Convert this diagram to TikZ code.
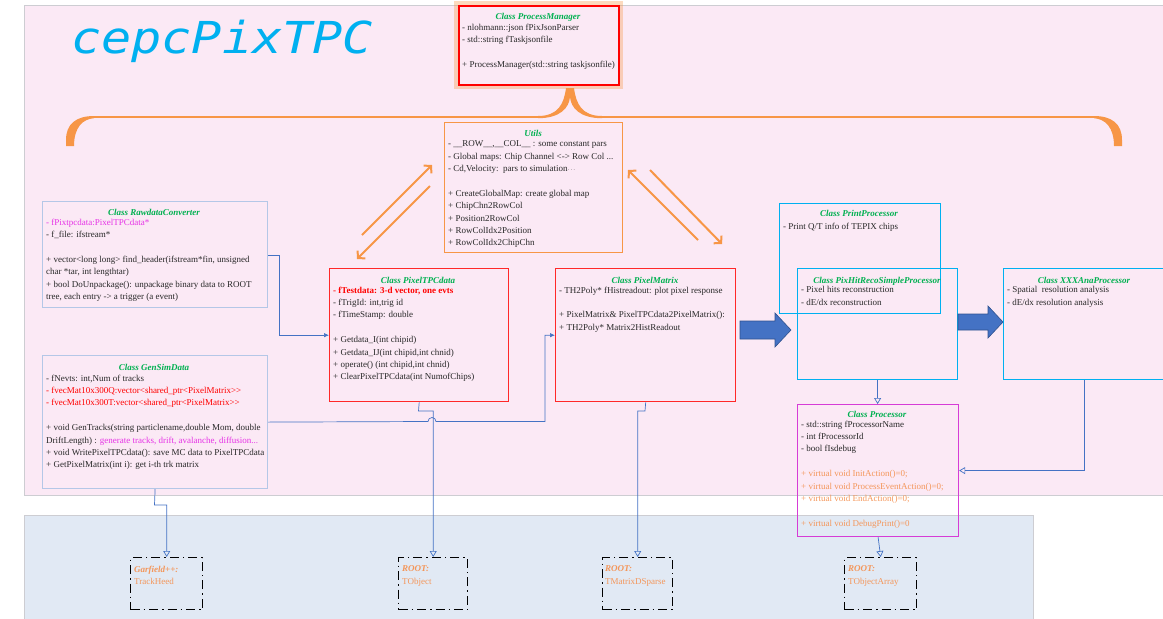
\documentclass[tikz,border=0pt]{standalone}
\usepackage{fontspec}
\usepackage{graphicx}
\setmainfont{Liberation Serif}
\newfontfamily\logofont{DejaVu Sans Mono}
\usetikzlibrary{arrows.meta,calc}

\definecolor{panelpink}{RGB}{251,233,245}
\definecolor{panelblue}{RGB}{225,233,244}
\definecolor{panelline}{RGB}{205,205,210}
\definecolor{clsgreen}{RGB}{0,176,80}
\definecolor{logocyan}{RGB}{0,176,240}
\definecolor{accent}{RGB}{247,150,70}
\definecolor{linkblue}{RGB}{68,114,196}
\definecolor{linkdark}{RGB}{47,82,143}
\definecolor{softblue}{RGB}{180,199,231}
\definecolor{boxred}{RGB}{255,40,40}
\definecolor{procmag}{RGB}{214,60,214}
\definecolor{hotpink}{RGB}{230,50,230}
\definecolor{methorange}{RGB}{244,150,90}
\definecolor{bodytext}{RGB}{40,40,40}

\begin{document}
\begin{tikzpicture}[x=1pt,y=-1pt,
  box/.style={draw, line width=1.2pt, inner sep=0pt, anchor=north west},
  libbox/.style={draw=black, line width=1.4pt, inner sep=0pt, anchor=north west,
    dash pattern=on 9pt off 4pt on 1.5pt off 4pt},
  cls/.style={font=\fontsize{9}{12.4}\selectfont\bfseries\itshape, text=clsgreen,
    inner sep=0pt, anchor=base},
  % multi-line text: the given point is the first baseline
  body/.style={font=\fontsize{9}{12.4}\selectfont, text=bodytext, inner sep=0pt,
    anchor=north west, yshift=8.5pt, align=left,
    execute at begin node={\rule{0pt}{8.5pt}}},
  libtext/.style={body, text=methorange},
  link/.style={draw=linkblue, line width=0.7pt},
  inherit/.style={link, -{Triangle[open,length=6pt,width=7pt]}},
  assoc/.style={link, -{Latex[length=5pt,width=4.5pt]}},
  usesarrow/.style={draw=accent, line width=2pt, -{Straight Barb[length=5pt,width=11pt]}},
  blockarrow/.style={fill=linkblue, draw=linkdark, line width=0.6pt}
]
\useasboundingbox (0,0) rectangle (1163,619);

% background panels
\fill[panelpink, draw=panelline, line width=0.8pt] (24,5) rectangle (1180,495);
\fill[panelblue, draw=panelline, line width=0.5pt] (24,515) rectangle (1033,630);

% logo
\node[anchor=base west, inner sep=0pt, text=logocyan] (logo) at (71,53)
  {\scalebox{1.14}[1]{\fontsize{44}{44}\logofont\itshape cepcPixTPC}};

% process manager with its glow
\draw[accent, opacity=0.35, line width=5pt] (456,3) rectangle (620,86);
\node[box, draw=red, line width=2pt, minimum width=160pt, minimum height=79pt] (pm) at (458,5) {};
\node[cls] (pmt) at (538,19) {Class ProcessManager};
\node[body] (pmb) at (462,32) {- nlohmann::json fPixJsonParser\\
- std::string fTaskjsonfile\\[12.4pt]
+ ProcessManager(std::string taskjsonfile)};

% curly brace under the process manager
\fill[accent] (66,146) -- (66,140) .. controls (66,124) and (76,116) .. (94,116)
  -- (94,118.2) .. controls (83,119) and (74,127) .. (74,146) -- cycle;
\fill[accent] (1122,146) -- (1122,140) .. controls (1122,124) and (1112,116) .. (1094,116)
  -- (1094,118.2) .. controls (1105,119) and (1114,127) .. (1114,146) -- cycle;
\draw[accent, line width=2pt] (93,117.1) -- (540,117.1);
\draw[accent, line width=2pt] (600,117.1) -- (1095,117.1);
\fill[accent] (538,116) .. controls (558,116) and (564,104) .. (566,88)
  -- (574,88) .. controls (576,104) and (582,116) .. (602,116)
  -- (602,118.2) .. controls (580,118.2) and (571,108) .. (570,97)
  .. controls (569,108) and (560,118.2) .. (538,118.2) -- cycle;

% utilities
\node[box, draw=accent, minimum width=178pt, minimum height=130pt] (utils) at (444,122) {};
\node[cls] (utilst) at (533,136) {Utils};
\node[body] (utilsb) at (448,149) {- \_\_ROW\_\_,\_\_COL\_\_ : some constant pars\\
- Global maps: Chip Channel <-> Row Col ...\\
- Cd,Velocity:\ \ pars to simulation{\bfseries\fontsize{6}{6}\selectfont$\cdot\!\cdot\!\cdot$}\\[12.4pt]
+ CreateGlobalMap: create global map\\
+ ChipChn2RowCol\\
+ Position2RowCol\\
+ RowColIdx2Position\\
+ RowColIdx2ChipChn};

% raw data converter
\node[box, draw=softblue, minimum width=225pt, minimum height=106pt] (raw) at (42,201) {};
\node[cls] (rawt) at (154,215) {Class RawdataConverter};
\node[body] (rawb) at (46,227) {\textcolor{hotpink}{- fPixtpcdata:PixelTPCdata*}\\
- f\_file: ifstream*\\[12.4pt]
+ vector<long long> find\_header(ifstream*fin, unsigned\\
char *tar, int lengthtar)\\
+ bool DoUnpackage(): unpackage binary data to ROOT\\
tree, each entry -> a trigger (a event)};

% simulated data generator
\node[box, draw=softblue, minimum width=225pt, minimum height=133pt] (gen) at (42,355) {};
\node[cls] (gent) at (154,370) {Class GenSimData};
\node[body] (genb) at (46,383) {- fNevts: int,Num of tracks\\
\textcolor{red}{- fvecMat10x300Q:vector<shared\_ptr<PixelMatrix>{}>}\\
\textcolor{red}{- fvecMat10x300T:vector<shared\_ptr<PixelMatrix>{}>}\\[12.4pt]
+ void GenTracks(string particlename,double Mom, double\\
DriftLength) : \textcolor{hotpink}{generate tracks, drift, avalanche, diffusion...}\\
+ void WritePixelTPCdata(): save MC data to PixelTPCdata\\
+ GetPixelMatrix(int i): get i-th trk matrix};

% pixel TPC data
\node[box, draw=boxred, line width=1.4pt, minimum width=179pt, minimum height=133pt] (tpc) at (329,268) {};
\node[cls] (tpct) at (418,283) {Class PixelTPCdata};
\node[body] (tpcb) at (333,295) {\textcolor{red}{\bfseries - fTestdata: 3-d vector, one evts}\\
- fTrigId: int,trig id\\
- fTimeStamp: double\\[12.4pt]
+ Getdata\_I(int chipid)\\
+ Getdata\_IJ(int chipid,int chnid)\\
+ operate() (int chipid,int chnid)\\
+ ClearPixelTPCdata(int NumofChips)};

% pixel matrix
\node[box, draw=boxred, line width=1.4pt, minimum width=180pt, minimum height=133pt] (mat) at (555,268) {};
\node[cls] (matt) at (645,283) {Class PixelMatrix};
\node[body] (matb) at (559,295) {- TH2Poly* fHistreadout: plot pixel response\\[12.4pt]
+ PixelMatrix\& PixelTPCdata2PixelMatrix():\\
+ TH2Poly* Matrix2HistReadout};

% processors
\node[box, draw=logocyan, minimum width=161pt, minimum height=110pt] (prt) at (779,203) {};
\node[cls] (prtt) at (859,216) {Class PrintProcessor};
\node[body] (prtb) at (783,229) {- Print Q/T info of TEPIX chips};

\node[box, draw=logocyan, minimum width=160pt, minimum height=111pt] (reco) at (797,268) {};
\node[cls] (recot) at (877,283) {Class PixHitRecoSimpleProcessor};
\node[body] (recob) at (801,295) {- Pixel hits reconstruction\\
- dE/dx reconstruction};

\node[box, draw=logocyan, minimum width=166pt, minimum height=111pt] (ana) at (1003,268) {};
\node[cls] (anat) at (1084,283) {Class XXXAnaProcessor};
\node[body] (anab) at (1007,295) {- Spatial\ \ resolution analysis\\
- dE/dx resolution analysis};

\node[box, draw=procmag, minimum width=161pt, minimum height=132pt] (proc) at (797,404) {};
\node[cls] (proct) at (877,417) {Class Processor};
\node[body] (procb) at (801,429) {- std::string fProcessorName\\
- int fProcessorId\\
- bool fIsdebug\\[12.4pt]
\textcolor{methorange}{+ virtual void InitAction()=0;}\\
\textcolor{methorange}{+ virtual void ProcessEventAction()=0;}\\
\textcolor{methorange}{+ virtual void EndAction()=0;}\\[12.4pt]
\textcolor{methorange}{+ virtual void DebugPrint()=0}};

% external library classes
\node[libbox, minimum width=72pt, minimum height=52pt] (garf) at (130,557) {};
\node[libtext] (garft) at (134,574) {\bfseries\itshape Garfield++:\\TrackHeed};
\node[libbox, minimum width=69pt, minimum height=52pt] (tobj) at (398,557) {};
\node[libtext] (tobjt) at (402,574) {\bfseries\itshape ROOT:\\TObject};
\node[libbox, minimum width=70pt, minimum height=52pt] (tmat) at (602,557) {};
\node[libtext] (tmatt) at (605,574) {\bfseries\itshape ROOT:\\TMatrixDSparse};
\node[libbox, minimum width=72pt, minimum height=52pt] (tarr) at (844,557) {};
\node[libtext] (tarrt) at (848,574) {\bfseries\itshape ROOT:\\TObjectArray};

% data flow between utilities and data classes
\draw[usesarrow] (362,235) -- (432,165);
\draw[usesarrow] (430,186) -- (357,259);
\draw[usesarrow] (698,240) -- (628,170);
\draw[usesarrow] (650,170) -- (722,244);

% block arrows along the processing chain
\fill[blockarrow] (740,321) -- (775,321) -- (775,313) -- (791,330) -- (775,347)
  -- (775,339) -- (740,339) -- cycle;
\fill[blockarrow] (958,314) -- (988,314) -- (988,306) -- (1003,322) -- (988,338)
  -- (988,330) -- (958,330) -- cycle;

% associations
\draw[assoc] (raw.east |- 0,255) -- (279,255) |- (tpc.west);
\draw[assoc] (gen.east) -- (428,421.5) arc[start angle=180, end angle=360, radius=4]
  -- (545,421.5) |- (mat.west);

% inheritance
\draw[inherit] (gen.south) -- (154.5,505) -- (garf.north |- 0,505) -- (garf.north);
\draw[inherit] (tpc.south) -- (418.5,411) -- (tobj.north |- 0,411) -- (tobj.north);
\draw[inherit] (mat.south) -- (645,411) -- (tmat.north |- 0,411) -- (tmat.north);
\draw[inherit] (reco.south) -- (reco.south |- proc.north);
\draw[inherit] (ana.south -| 1084,0) |- (proc.east);
\draw[inherit] (proc.south) -- (tarr.north);
\end{tikzpicture}
\end{document}
